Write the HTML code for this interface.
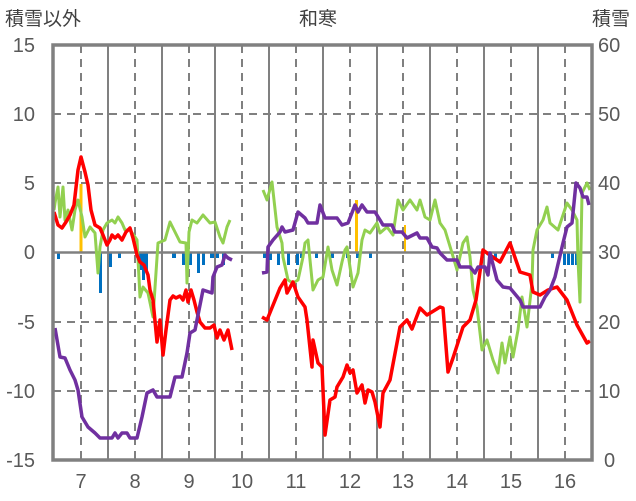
<!DOCTYPE html>
<html><head><meta charset="utf-8"><style>
html,body{margin:0;padding:0;background:#fff;}
svg{display:block;font-family:"Liberation Sans","Noto Sans CJK JP",sans-serif;}
</style></head><body>
<svg width="636" height="501" viewBox="0 0 636 501" xmlns="http://www.w3.org/2000/svg">
<rect width="636" height="501" fill="#fff"/>
<!-- grid horizontals dashed -->
<g stroke="#808080" stroke-width="2" stroke-dasharray="8,6">
<line x1="53" y1="114" x2="592" y2="114"/><line x1="53" y1="183" x2="592" y2="183"/>
<line x1="53" y1="322" x2="592" y2="322"/><line x1="53" y1="391" x2="592" y2="391"/>
<line x1="81" y1="45" x2="81" y2="460"/><line x1="135" y1="45" x2="135" y2="460"/>
<line x1="189" y1="45" x2="189" y2="460"/><line x1="242" y1="45" x2="242" y2="460"/>
<line x1="296" y1="45" x2="296" y2="460"/><line x1="350" y1="45" x2="350" y2="460"/>
<line x1="403" y1="45" x2="403" y2="460"/><line x1="457" y1="45" x2="457" y2="460"/>
<line x1="511" y1="45" x2="511" y2="460"/><line x1="565" y1="45" x2="565" y2="460"/>
</g>
<g stroke="#808080" stroke-width="2">
<line x1="108" y1="45" x2="108" y2="460"/><line x1="162" y1="45" x2="162" y2="460"/>
<line x1="215" y1="45" x2="215" y2="460"/><line x1="269" y1="45" x2="269" y2="460"/>
<line x1="323" y1="45" x2="323" y2="460"/><line x1="377" y1="45" x2="377" y2="460"/>
<line x1="430" y1="45" x2="430" y2="460"/><line x1="484" y1="45" x2="484" y2="460"/>
<line x1="538" y1="45" x2="538" y2="460"/>
</g>
<!-- bars -->
<g fill="#FFC000">
<rect x="79.5" y="184" width="3" height="68"/><rect x="355" y="200" width="3" height="52"/><rect x="404" y="225" width="2" height="27"/>
</g>
<g fill="#0070C0">
<rect x="57" y="253" width="3" height="6"/><rect x="99" y="253" width="3" height="40"/><rect x="109" y="253" width="3" height="14"/>
<rect x="118" y="253" width="3" height="5"/><rect x="139" y="253" width="3" height="17"/><rect x="142" y="253" width="3" height="27"/>
<rect x="145" y="253" width="3" height="17"/><rect x="172" y="253" width="4" height="5"/><rect x="182" y="253" width="3" height="12"/>
<rect x="189" y="253" width="3" height="12"/><rect x="197" y="253" width="3" height="20"/><rect x="202" y="253" width="3" height="12"/>
<rect x="210" y="253" width="4" height="5"/><rect x="216" y="253" width="3" height="5"/><rect x="222" y="253" width="3" height="12"/>
<rect x="263" y="253" width="4" height="5"/><rect x="269" y="253" width="3" height="7"/><rect x="277" y="253" width="3" height="12"/>
<rect x="287" y="253" width="3" height="12"/><rect x="296" y="253" width="3" height="12"/><rect x="300" y="253" width="3" height="5"/>
<rect x="315" y="253" width="3" height="5"/><rect x="331" y="253" width="3" height="5"/><rect x="346" y="253" width="3" height="5"/>
<rect x="356" y="253" width="3" height="5"/><rect x="369" y="253" width="3" height="5"/><rect x="481" y="253" width="3" height="5"/>
<rect x="494" y="253" width="3" height="5"/><rect x="551" y="253" width="3" height="5"/><rect x="563" y="253" width="3" height="12"/>
<rect x="567" y="253" width="3" height="12"/><rect x="571" y="253" width="3" height="12"/><rect x="575" y="253" width="3" height="12"/>
</g>
<line x1="53" y1="252.5" x2="592" y2="252.5" stroke="#808080" stroke-width="2.5"/>
<!-- green -->
<g fill="none" stroke="#92D050" stroke-width="3" stroke-linejoin="round">
<polyline points="54,210 55,203 58,187 60,217 63,187 65,220 68,210 72,230 75,210 78,200 82,217 85,237 90,227 95,233 98,273 100,247 103,230 107,223 112,220 115,223 118,217 122,223 125,230 130,230 135,237 137,240 140,297 143,287 148,293 153,317 158,243 165,240 170,222 175,232 180,242 186,243 187,283 189,232 192,220 197,223 203,215 210,223 215,222 220,237 223,243 227,227 230,220"/>
<polyline points="263,190 267,200 272,182 277,227 282,243 283,257 288,280 293,283 298,280 303,257 305,243 308,240 313,290 318,280 323,277 328,247 332,270 337,285 342,262 345,250 347,247 353,287 358,273 362,240 365,230 370,233 377,223 380,233 387,227 393,235 398,200 403,210 410,200 417,210 420,200 425,217 430,220 435,200 440,223 445,230 452,253 457,270 463,243 467,237 470,257 473,290 477,307 482,350 487,340 493,360 498,373 502,343 505,363 510,337 513,357 518,330 522,297 527,327 532,283 533,250 537,230 543,220 547,207 550,223 558,230 567,203 572,210 577,220 578,260 580,302 582,193 587,183 590,190"/>
</g>
<!-- red -->
<g fill="none" stroke="#FF0000" stroke-width="3.5" stroke-linejoin="round">
<polyline points="54,212 58,225 62,228 66,222 70,215 74,205 78,170 81,157 85,172 88,185 91,210 95,225 100,228 103,235 107,245 110,240 112,235 115,238 118,235 122,240 126,232 130,228 133,238 137,255 140,262 144,265 148,275 150,290 153,300 157,342 160,320 163,355 166,330 170,300 173,296 176,298 180,296 183,300 186,290 188,302 191,290 194,300 197,312 200,322 205,328 210,328 214,325 217,338 220,330 224,340 228,330 232,350"/>
<polyline points="262,317 267,320 280,288 285,280 287,293 293,282 298,297 305,307 307,320 312,367 313,340 318,363 322,367 325,435 330,400 335,397 337,387 343,377 347,365 350,373 353,370 357,393 362,385 365,403 368,390 372,392 375,402 380,427 383,393 390,380 400,327 407,320 412,329 420,308 427,315 440,307 443,308 448,372 453,358 463,327 470,320 476,300 483,250 487,253 500,262 510,243 520,272 530,275 533,292 540,295 548,290 557,287 567,300 577,325 587,343 590,341"/>
</g>
<!-- purple -->
<g fill="none" stroke="#7030A0" stroke-width="3.5" stroke-linejoin="round">
<polyline points="55,328 60,357 65,358 70,370 75,380 78,390 82,417 88,427 95,433 100,438 112,438 115,433 118,438 122,433 127,433 130,438 137,438 142,417 147,393 153,390 157,397 170,397 175,377 182,377 187,353 190,333 195,330 197,320 203,290 212,293 213,277 217,267 222,265 225,255 228,258 232,260"/>
<polyline points="262,273 267,272 268,247 273,240 280,232 282,227 285,232 293,230 298,212 305,218 308,223 317,223 320,205 325,218 337,218 342,225 348,223 355,205 358,212 362,205 367,212 375,212 380,220 383,225 392,225 395,232 402,232 407,238 417,233 420,238 427,238 432,247 437,248 440,253 447,260 457,260 460,267 470,267 475,273 478,267 485,267 488,275 490,253 497,280 503,287 510,288 520,300 523,307 540,307 545,297 550,290 555,277 563,243 567,227 572,223 576,183 580,188 583,197 587,197 589,205"/>
</g>
<!-- frame -->
<rect x="53" y="45" width="539" height="415" fill="none" stroke="#808080" stroke-width="3.5"/>
<!-- labels -->
<g fill="#404040" font-size="19">
<text x="5" y="25">積雪以外</text>
<text x="318" y="25" text-anchor="middle">和寒</text>
<text x="630" y="25" text-anchor="end">積雪</text>
</g>
<g fill="#595959" font-size="20" text-anchor="end">
<text x="35" y="52">15</text><text x="35" y="121">10</text><text x="35" y="190">5</text>
<text x="35" y="259">0</text><text x="35" y="329">-5</text><text x="35" y="398">-10</text><text x="35" y="467">-15</text>
</g>
<g fill="#595959" font-size="20" text-anchor="start">
<text x="598" y="52">60</text><text x="598" y="121">50</text><text x="598" y="190">40</text>
<text x="598" y="259">30</text><text x="598" y="329">20</text><text x="598" y="398">10</text><text x="604" y="467">0</text>
</g>
<g fill="#595959" font-size="20" text-anchor="middle">
<text x="81" y="488">7</text><text x="135" y="488">8</text><text x="189" y="488">9</text>
<text x="242" y="488">10</text><text x="296" y="488">11</text><text x="350" y="488">12</text>
<text x="403" y="488">13</text><text x="457" y="488">14</text><text x="511" y="488">15</text><text x="565" y="488">16</text>
</g>
</svg>
</body></html>
